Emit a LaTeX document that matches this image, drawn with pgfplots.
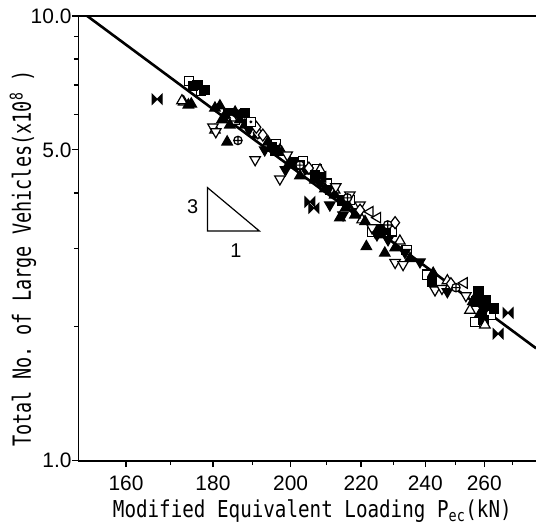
\documentclass[border=0pt]{standalone}
\usepackage{fontspec}
\setmainfont{Liberation Sans}
\setmonofont{DejaVu Sans Mono}
\usepackage{pgfplots}
\pgfplotsset{compat=1.18}

\pgfdeclareplotmark{sqdot}{%
  \pgfpathrectangle{\pgfqpoint{-\pgfplotmarksize}{-\pgfplotmarksize}}{\pgfqpoint{2\pgfplotmarksize}{2\pgfplotmarksize}}%
  \pgfusepathqfillstroke
  \pgfpathcircle{\pgfpointorigin}{0.35\pgfplotmarksize}%
  \pgfsetfillcolor{black}%
  \pgfusepathqfill
}
\pgfdeclareplotmark{bowtie}{%
  \pgfpathmoveto{\pgfqpoint{-\pgfplotmarksize}{\pgfplotmarksize}}%
  \pgfpathlineto{\pgfpointorigin}%
  \pgfpathlineto{\pgfqpoint{\pgfplotmarksize}{\pgfplotmarksize}}%
  \pgfpathlineto{\pgfqpoint{\pgfplotmarksize}{-\pgfplotmarksize}}%
  \pgfpathlineto{\pgfpointorigin}%
  \pgfpathlineto{\pgfqpoint{-\pgfplotmarksize}{-\pgfplotmarksize}}%
  \pgfpathclose
  \pgfusepathqfillstroke
}

\begin{document}
\begin{tikzpicture}
\begin{axis}[
  name=ax,
  scale only axis, width=457.6bp, height=444.7bp,
  xmode=log, ymode=log,
  xmin=150, xmax=278.9, ymin=1, ymax=10,
  axis x line=box, axis y line=left,
  axis line style={-, line width=1.6bp},
  xtick={160,180,200,220,240,260},
  xticklabels={160,180,200,220,240,260},
  minor xtick={170,190,210,230,250,270},
  ytick={1,5,10}, yticklabels={1.0,5.0,10.0},
  minor ytick={2,3,4,6,7,8,9},
  xtick pos=left, ytick pos=left,
  tick align=outside,
  tick style={line width=1.2bp, black},
  major tick length=6.5bp, minor tick length=4.5bp,
  ticklabel style={font=\fontsize{21}{24}\selectfont},
  xticklabel style={yshift=-5bp},
  yticklabel style={xshift=3bp},
  /pgf/number format/assume math mode=true,
  clip=true,
]
% open squares
\addplot[only marks, mark=square*, mark size=4.6bp, mark options={fill=white, draw=black, line width=1.2bp}] coordinates {
(174.3,7.14) (177.1,6.78) (203.3,4.72) (207.2,4.53) (210.0,4.20) (223.3,3.27) (234.0,2.98) (256.8,2.05) (262.4,2.13) (258.5,2.30) (216.7,3.86) (229.4,3.28) (185.5,5.84) (196.0,5.15) (240.5,2.62)
};
% filled squares
\addplot[only marks, mark=square*, mark size=4.6bp, mark options={fill=black, draw=black, line width=1.2bp}] coordinates {
(176.3,7.00) (188.0,6.05) (183.7,6.05) (195.0,5.08) (202.5,4.63) (210.9,4.06) (218.5,3.61) (225.1,3.32) (258.0,2.40) (259.7,2.07) (260.0,2.24) (242.3,2.52) (175.2,6.95) (200.5,4.70) (214.5,3.85) (257.2,2.28)
};
% open up triangles
\addplot[only marks, mark=triangle*, mark size=6bp, mark options={fill=white, draw=black, line width=1.2bp}] coordinates {
(173.0,6.41) (180.5,5.54) (184.7,5.90) (197.1,5.00) (208.1,4.51) (212.3,4.06) (231.9,3.12) (255.0,2.18) (260.2,2.02) (247.3,2.54) (220.3,3.48) (172.6,6.45)
};
% filled up triangles
\addplot[only marks, mark=triangle*, mark size=6bp, mark options={fill=black, draw=black, line width=1.2bp}] coordinates {
(174.8,6.34) (174.1,6.31) (183.5,5.21) (181.7,6.28) (191.1,5.40) (199.8,4.69) (205.3,4.48) (213.8,3.52) (221.6,3.03) (227.2,2.93) (215.5,3.71) (242.6,2.64) (256.0,2.28) (258.5,2.14) (202.5,4.37) (180.5,6.21) (183.0,5.99) (185.5,6.08) (186.7,5.84) (188.0,5.69) (184.2,5.69) (182.2,5.84) (194.0,5.21) (197.6,4.94) (201.2,4.62) (206.7,4.28) (209.5,4.09) (212.3,3.96) (216.1,3.76) (218.2,3.57) (221.2,3.45) (225.7,3.22) (230.4,3.01) (235.1,2.85)
};
% open down triangles
\addplot[only marks, mark=triangle*, mark size=6bp, mark options={rotate=180, fill=white, draw=black, line width=1.2bp}] coordinates {
(180.0,5.63) (180.7,5.49) (190.6,4.75) (197.1,4.30) (199.1,4.87) (212.6,4.13) (216.7,3.96) (230.4,2.79) (232.9,2.76) (243.2,2.42) (245.5,2.44) (219.7,3.76) (253.6,2.35) (195.8,5.03) (223.3,3.34)
};
% filled down triangles
\addplot[only marks, mark=triangle*, mark size=6bp, mark options={rotate=180, fill=black, draw=black, line width=1.2bp}] coordinates {
(193.1,5.00) (208.1,4.21) (214.7,3.57) (224.8,3.22) (247.3,2.40) (238.3,2.80) (198.6,4.51) (260.0,2.18) (203.9,4.53) (210.9,3.76) (228.2,3.14) (233.5,2.94) (189.0,5.55)
};
% open diamonds
\addplot[only marks, mark=diamond*, mark size=6bp, mark options={fill=white, draw=black, line width=1.2bp}] coordinates {
(191.3,5.46) (190.9,5.62) (192.6,5.40) (230.4,3.43) (219.7,3.66) (248.5,2.50) (205.0,4.55)
};
% squares with dot
\addplot[only marks, mark=sqdot, mark size=4.6bp, mark options={fill=white, draw=black, line width=1.2bp}] coordinates {
(189.5,5.78) (178.0,6.82) (195.8,4.97) (260.5,2.29) (227.5,3.30) (206.7,4.39) (263.5,2.20)
};
% circles with plus
\addplot[only marks, mark=oplus*, mark size=4.2bp, mark options={fill=white, draw=black, line width=1.2bp}] coordinates {
(186.2,5.25) (250.2,2.45) (228.1,3.39) (202.5,4.62) (216.0,3.90)
};
% left triangles
\addplot[only marks, mark=triangle*, mark size=6bp, mark options={rotate=90, fill=white, draw=black, line width=1.2bp}] coordinates {
(253.0,2.51) (222.7,3.63) (225.0,3.52)
};
\addplot[only marks, mark=triangle*, mark size=6bp, mark options={rotate=90, fill=black, draw=black, line width=1.2bp}] coordinates {
(208.9,4.35) (186.0,6.00)
};
% bowties
\addplot[only marks, mark=bowtie, mark size=5bp, mark options={fill=black, draw=black, line width=1bp}] coordinates {
(166.9,6.50) (205.3,3.82) (206.4,3.70) (268.5,2.15) (264.9,1.93)
};
% fitted line
\addplot[black, line width=2.6bp, no marks] coordinates {(151.8,10) (278.9,1.79)};
% slope triangle
\draw[line width=1.2bp] (axis cs:178.7,4.111) -- (axis cs:178.7,3.285) -- (axis cs:191.7,3.285) -- cycle;
\node[font=\fontsize{20}{24}\selectfont] at (axis cs:175.1,3.72) {3};
\node[font=\fontsize{20}{24}\selectfont] at (axis cs:185.7,2.967) {1};
\end{axis}
\coordinate (O) at ([xshift=-78.4bp,yshift=16bp]ax.north west);
\node[rotate=90, anchor=base, inner sep=0pt] at ([xshift=31bp,yshift=-258.5bp]O)
  {\scalebox{1}[1.35]{\fontsize{18.6}{20}\ttfamily Total No. of Large Vehicles(x10\textsuperscript{8} )}};
\node[anchor=base, inner sep=0pt] at ([xshift=312.3bp,yshift=-517.5bp]O)
  {\scalebox{1}[1.21]{\fontsize{19.3}{22}\ttfamily Modified Equivalent Loading P\textsubscript{ec}(kN)}};
\pgfresetboundingbox
\path (O) rectangle ([yshift=-64.3bp]ax.south east);
\end{tikzpicture}
\end{document}
